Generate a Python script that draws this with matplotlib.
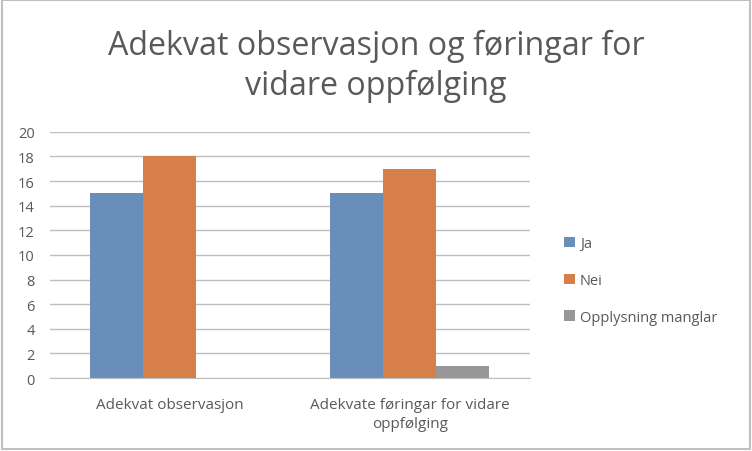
import numpy as np
import matplotlib.pyplot as plt
from matplotlib.patches import Rectangle

categories = ['Adekvat observasjon', 'Adekvate føringar for vidare\noppfølging']
series = ['Ja', 'Nei', 'Opplysning manglar']
ja = [15, 15]
nei = [18, 17]
manglar = [0, 1]
colors = ['#6A8EBA', '#D77F4B', '#979797']

plt.rcParams['font.family'] = ['Open Sans', 'DejaVu Sans']
txt = '#595959'

fig = plt.figure(figsize=(7.52, 4.52), dpi=100)
ax = fig.add_axes([0.0665, 0.1615, 0.638, 0.5445])

x = np.arange(len(categories))
w = 0.221
for i, (vals, name) in enumerate(zip([ja, nei, manglar], series)):
    ax.bar(x + (i - 1) * w, vals, w, color=colors[i], label=name, zorder=3)

ax.set_xlim(-0.5, 1.5)
ax.set_ylim(0, 20)
ax.set_yticks(range(0, 21, 2))
ax.set_xticks(x)
ax.set_xticklabels(categories, fontsize=11, color=txt, linespacing=1.3)
ax.tick_params(axis='y', length=0, labelsize=10.5, labelcolor=txt, pad=11)
ax.tick_params(axis='x', length=0, pad=14)
ax.grid(axis='y', color='#BFBFBF', linewidth=1, zorder=0)
for s in ['top', 'right', 'left']:
    ax.spines[s].set_visible(False)
ax.spines['bottom'].set_color('#BFBFBF')
ax.spines['bottom'].set_zorder(4)

fig.text(0.5, 0.853, 'Adekvat observasjon og føringar for\nvidare oppfølging',
         ha='center', va='center', fontsize=23.2, color=txt, linespacing=1.3)

ax.legend(loc='center left', bbox_to_anchor=(1.045, 0.397), frameon=False,
          fontsize=10.5, labelcolor=txt, handlelength=0.7, handleheight=0.7,
          handletextpad=0.35, labelspacing=1.5)

fig.patches.append(Rectangle((0.002, 0.004), 0.996, 0.994, transform=fig.transFigure,
                             fill=False, edgecolor='#BFBFBF', linewidth=1.5))

fig.savefig('out.png', dpi=100)
